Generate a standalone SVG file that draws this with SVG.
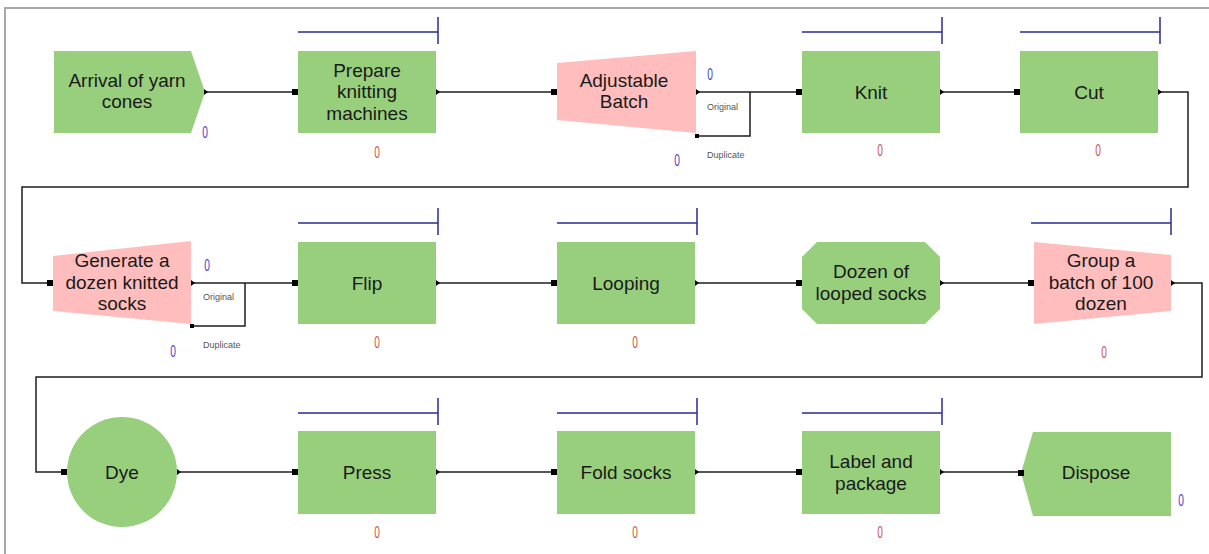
<svg xmlns="http://www.w3.org/2000/svg" width="1209" height="554" viewBox="0 0 1209 554">
  <style>
    .frame { fill: none; stroke: #a8a8a8; stroke-width: 2; }
    .proc { fill: #97cf7d; }
    .batch { fill: #ffbdbd; }
    .lbl { font-family: "Liberation Sans", Arial, sans-serif; font-size: 19px; fill: #1a1a1a; text-anchor: middle; }
    .port { font-family: "Liberation Sans", Arial, sans-serif; font-size: 9px; fill: #555; }
    .cntB { font-family: "Liberation Sans", Arial, sans-serif; font-size: 17px; fill: #4a3fc8; text-anchor: middle; }
    .cntR { font-family: "Liberation Sans", Arial, sans-serif; font-size: 17px; fill: #d0524a; text-anchor: middle; }
    .bar { fill: none; stroke: #2b2b96; stroke-width: 1.5; }
    .wire { fill: none; stroke: #1e1e1e; stroke-width: 1.5; }
    .pin { fill: #000; }
  </style>
  <defs>
    <!-- input port: square sitting just left of a block edge -->
    <rect id="inPort" x="-6" y="-3" width="6" height="6" class="pin"/>
    <!-- output port: small pointer on the right edge -->
    <polygon id="outPort" points="0,-3 4,0 0,3" class="pin"/>
    <!-- resource bar drawn above activities -->
    <path id="bar" d="M0,0 H140 M140,-15 V12" class="bar"/>
  </defs>

  <rect width="1209" height="554" fill="#fff"/>
  <path class="frame" d="M5,554 V8 H1209"/>

  <!-- connectors -->
  <g id="connectors">
    <path class="wire" d="M205,92 H298"/>
    <path class="wire" d="M436,92 H557"/>
    <path class="wire" d="M696,92 H802"/>
    <path class="wire" d="M750,92 V136 H696"/>
    <path class="wire" d="M940,92 H1020"/>
    <path class="wire" d="M1158,92 H1188 V187 H22 V283 H53"/>
    <path class="wire" d="M191,283 H298"/>
    <path class="wire" d="M245,283 V326 H191"/>
    <path class="wire" d="M436,283 H557"/>
    <path class="wire" d="M695,283 H802"/>
    <path class="wire" d="M940,283 H1034"/>
    <path class="wire" d="M1171,283 H1202 V377 H36 V472 H67"/>
    <path class="wire" d="M177,472 H298"/>
    <path class="wire" d="M436,472 H557"/>
    <path class="wire" d="M695,472 H802"/>
    <path class="wire" d="M940,472 H1021"/>
  </g>

  <!-- row 1 -->
  <g id="arrival">
    <polygon class="proc" points="54,51 191,51 205,92 191,133 54,133"/>
    <text class="lbl" x="127" y="87">Arrival of yarn</text>
    <text class="lbl" x="127" y="108">cones</text>
    <use href="#outPort" x="204" y="92"/>
    <text class="cntB" transform="translate(205,138) scale(0.6,1)">0</text>
  </g>

  <g id="prepare">
    <use href="#bar" x="298" y="32"/>
    <rect class="proc" x="298" y="51" width="138" height="82"/>
    <text class="lbl" x="367" y="76.5">Prepare</text>
    <text class="lbl" x="367" y="98">knitting</text>
    <text class="lbl" x="367" y="119.5">machines</text>
    <use href="#inPort" x="298" y="92"/>
    <use href="#outPort" x="436" y="92"/>
    <text class="cntR" transform="translate(377,158) scale(0.6,1)">0</text>
  </g>

  <g id="adjustable-batch">
    <polygon class="batch" points="557,63 696,51 696,133 557,120"/>
    <text class="lbl" x="624" y="87">Adjustable</text>
    <text class="lbl" x="624" y="108">Batch</text>
    <use href="#inPort" x="557" y="92"/>
    <use href="#outPort" x="696" y="92"/>
    <rect class="pin" x="695" y="134" width="4" height="4"/>
    <text class="port" x="707" y="110">Original</text>
    <text class="port" x="707" y="158">Duplicate</text>
    <text class="cntB" transform="translate(710,80) scale(0.6,1)">0</text>
    <text class="cntB" transform="translate(677,166) scale(0.6,1)">0</text>
  </g>

  <g id="knit">
    <use href="#bar" x="802" y="32"/>
    <rect class="proc" x="802" y="51" width="138" height="82"/>
    <text class="lbl" x="871" y="98.5">Knit</text>
    <use href="#inPort" x="802" y="92"/>
    <use href="#outPort" x="940" y="92"/>
    <text class="cntR" transform="translate(880,156) scale(0.6,1)">0</text>
  </g>

  <g id="cut">
    <use href="#bar" x="1020" y="32"/>
    <rect class="proc" x="1020" y="51" width="138" height="82"/>
    <text class="lbl" x="1089" y="98.5">Cut</text>
    <use href="#inPort" x="1020" y="92"/>
    <use href="#outPort" x="1158" y="92"/>
    <text class="cntR" transform="translate(1098,156) scale(0.6,1)">0</text>
  </g>

  <!-- row 2 -->
  <g id="generate">
    <polygon class="batch" points="53,256 191,241 191,324 53,311"/>
    <text class="lbl" x="122" y="267">Generate a</text>
    <text class="lbl" x="122" y="288.5">dozen knitted</text>
    <text class="lbl" x="122" y="310">socks</text>
    <use href="#inPort" x="53" y="283"/>
    <use href="#outPort" x="191" y="283"/>
    <rect class="pin" x="190" y="324" width="4" height="4"/>
    <text class="port" x="203" y="300">Original</text>
    <text class="port" x="203" y="348">Duplicate</text>
    <text class="cntB" transform="translate(207,271) scale(0.6,1)">0</text>
    <text class="cntB" transform="translate(173,357) scale(0.6,1)">0</text>
  </g>

  <g id="flip">
    <use href="#bar" x="298" y="223"/>
    <rect class="proc" x="298" y="242" width="138" height="82"/>
    <text class="lbl" x="367" y="289.5">Flip</text>
    <use href="#inPort" x="298" y="283"/>
    <use href="#outPort" x="436" y="283"/>
    <text class="cntR" transform="translate(377,348) scale(0.6,1)">0</text>
  </g>

  <g id="looping">
    <use href="#bar" x="557" y="223"/>
    <rect class="proc" x="557" y="242" width="138" height="82"/>
    <text class="lbl" x="626" y="289.5">Looping</text>
    <use href="#inPort" x="557" y="283"/>
    <use href="#outPort" x="695" y="283"/>
    <text class="cntR" transform="translate(635,348) scale(0.6,1)">0</text>
  </g>

  <g id="dozen-looped">
    <polygon class="proc" points="817,242 925,242 940,257 940,309 925,324 817,324 802,309 802,257"/>
    <text class="lbl" x="871" y="278">Dozen of</text>
    <text class="lbl" x="871" y="299.5">looped socks</text>
    <use href="#inPort" x="802" y="283"/>
    <use href="#outPort" x="940" y="283"/>
  </g>

  <g id="group-batch">
    <use href="#bar" x="1031" y="223"/>
    <polygon class="batch" points="1034,242 1171,255 1171,311 1034,324"/>
    <text class="lbl" x="1101" y="267">Group a</text>
    <text class="lbl" x="1101" y="288.5">batch of 100</text>
    <text class="lbl" x="1101" y="310">dozen</text>
    <use href="#inPort" x="1034" y="283"/>
    <use href="#outPort" x="1171" y="283"/>
    <text class="cntR" transform="translate(1104,358) scale(0.6,1)">0</text>
  </g>

  <!-- row 3 -->
  <g id="dye">
    <circle class="proc" cx="122" cy="472" r="55"/>
    <text class="lbl" x="122" y="478.5">Dye</text>
    <use href="#inPort" x="67" y="472"/>
    <use href="#outPort" x="177" y="472"/>
  </g>

  <g id="press">
    <use href="#bar" x="298" y="413"/>
    <rect class="proc" x="298" y="431" width="138" height="83"/>
    <text class="lbl" x="367" y="478.5">Press</text>
    <use href="#inPort" x="298" y="472"/>
    <use href="#outPort" x="436" y="472"/>
    <text class="cntR" transform="translate(377,538) scale(0.6,1)">0</text>
  </g>

  <g id="fold">
    <use href="#bar" x="557" y="413"/>
    <rect class="proc" x="557" y="431" width="138" height="83"/>
    <text class="lbl" x="626" y="478.5">Fold socks</text>
    <use href="#inPort" x="557" y="472"/>
    <use href="#outPort" x="695" y="472"/>
    <text class="cntR" transform="translate(635,538) scale(0.6,1)">0</text>
  </g>

  <g id="label-package">
    <use href="#bar" x="802" y="413"/>
    <rect class="proc" x="802" y="431" width="138" height="83"/>
    <text class="lbl" x="871" y="468">Label and</text>
    <text class="lbl" x="871" y="489.5">package</text>
    <use href="#inPort" x="802" y="472"/>
    <use href="#outPort" x="940" y="472"/>
    <text class="cntR" transform="translate(880,538) scale(0.6,1)">0</text>
  </g>

  <g id="dispose">
    <polygon class="proc" points="1033,432 1171,432 1171,516 1033,516 1021,473"/>
    <text class="lbl" x="1096" y="479">Dispose</text>
    <use href="#inPort" x="1024" y="473"/>
    <text class="cntB" transform="translate(1181,506) scale(0.6,1)">0</text>
  </g>
</svg>
